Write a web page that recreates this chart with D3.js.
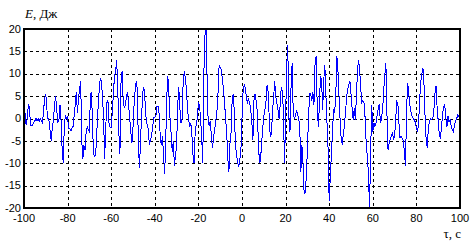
<!DOCTYPE html>
<html>
<head>
<meta charset="utf-8">
<script src="https://cdn.jsdelivr.net/npm/d3@7"></script>
<style>
    body { margin: 0; background: #fff; }
    svg { display: block; }
    .tick-label { font-family: "Liberation Sans", Arial, sans-serif; font-size: 11px; fill: #000; }
    .axis-title { font-family: "Liberation Serif", "Times New Roman", serif; font-size: 13px; fill: #000; }
    .grid line { stroke: #000; stroke-width: 1; stroke-dasharray: 3,3; shape-rendering: crispEdges; }
    .frame { fill: none; stroke: #000; stroke-width: 1.2; shape-rendering: crispEdges; }
    .signal { fill: none; stroke: #0000ff; stroke-width: 1; shape-rendering: crispEdges; }
</style>
</head>
<body>
<svg width="476" height="243"></svg>
<script>
(function (d3) {
    'use strict';

    // sampling of the signal: tau from -100 s, every 0.5 s
    const tauStart = -100;
    const tauStep = 0.5;

    // energy values, one row per 10 s
    const energy = [
        0.5, 1.2, -1.5, 0, 3, 2.5, -1.5, -1.6, -1.4, -0.8, -0.5, 0, -0.6, 0, -0.6, 0, -0.5, -1, 2, 4.5,
        5.5, 2, 0, -0.5, -3, -5, -2, -0.3, 3, 5, 2, -0.8, -0.5, 3, -0.5, -7, -10, -1.5, 0.8, 0,
        0.3, -2.3, -2.3, -2.8, -2.2, -1.8, 0.5, 3, 6, 1.2, 4.5, 6.5, 8.3, -5, -9, -6, -7, -3, -1.8, -2.6,
        -3, 5.5, 6, -3, -8, -8.5, -7, -2, 2.5, 6.5, 9, 8.3, 5, 0, -9, -2, 3.5, 4, -1, -2,
        -2, 1.5, 5.5, 9.5, 10.5, 13, 7, -3, -8, 8, 10.5, 4, 2.5, 3, 5, 6, 3, 0, -3, -5.5,
        -2, 3, 6.5, 8.3, 6.4, -6.5, -11, -4, 1, 6, 7, 4, 0, -1.5, -2.4, -5.9, -4.8, -4, -2, 0.2,
        0.2, 0.6, 2.7, 2.6, 1, -4, -6, -4, -8, -12.5, -5.5, 5, 9.5, 5, 0, -3.5, -7.5, -5, -10.7, -8.3,
        -6.3, 3, 7, 2.3, -1, 0, 8, 10.5, 9, 6.5, 2.3, -0.3, -1.8, -1, -3.5, -8, -10, -3.3, -1.2, 0,
        3.5, 3, 0, -4, -10, 10, 18.5, 20, 9, -1.3, -1.5, -0.5, -4.5, -6.5, -4, -2.2, -0.5, 1.5, 5.7, 12,
        11.5, 10.8, 9, 6.5, 3.5, 0, -3.5, -9, -11.9, -5.5, -3, 4.5, 5.5, 1, -6, -8, -10, -10.7, -9.3, -7,
        0, 6, 7.5, 7, 4.8, 3.5, 4.2, 3.5, 1.9, -0.5, -4.8, 4, 5.5, 4, 1.5, -5, -10, -9.3, -5.5, -2.2,
        0.4, 2, 3.8, 7.5, 6, 0, -4.2, -3.2, 1.5, 4.7, 8.3, 5, 3.3, 2, 0, 3, 7, 6, 1.5, -10,
        0, 11.6, 16.5, 0.5, -3, 7.2, 12.4, 1.5, 0, 0.5, 1.8, 1, 0, -2, -12, -6, -10, -16.7, -16.5, -13,
        -7, 0, 5.5, 5.5, 4, 6, 3, 12, 14, 3, -2, 3, 9.5, 8.5, 2, 8.5, 12, 5, -1, -7,
        -18.5, -13, -8, -3, 2, 1.5, 4.5, 14, 11, 5, -0.3, -4.7, -5.8, -3.5, -1.5, 1.5, 4.8, 6.5, 7.5, 8.3,
        5.5, 2.3, -0.3, 2.3, -0.3, 5, 11, 13, 10.5, 6.5, 3.6, 4, 3.4, 0, -6, -8.5, -12.5, -20, -8, 3,
        -3, -1, -1.8, -1, 0.8, 2.3, 3.2, -1, 0, 2, 6.2, 9.5, 12.3, 1, -7, -5.5, -4.6, -4, -3, -4.6,
        -4, -0.3, 3.8, 3.5, -1, -4.4, -4, -4.5, -5, -7.5, -10.7, 2, 8, 5.5, 3, 1.5, 0.5, 0, -0.3, -0.8,
        -2, -3, -1, 4, 8.3, 10, 11.2, 7.5, 0, -5, -6.5, -2, -0.5, 0, -0.2, 0, 1.6, 5.5, 7.2, 2.5,
        -0.5, -3.5, -4.6, -2, 1, 2.5, 3, 0, -1.8, 0.5, -0.8, -0.3, -1.8, -2.5, -2.9, -1.5, -0.5, 0, 0.8, 0.5,
        0.4
    ];

    const xTicks = [-100, -80, -60, -40, -20, 0, 20, 40, 60, 80, 100];
    const yTicks = [-20, -15, -10, -5, 0, 5, 10, 15, 20];
    const yLabel = ['E', ', Дж'];
    const xLabel = 'τ, с';

    const svg = d3.select('svg');
    const width = +svg.attr('width');
    const height = +svg.attr('height');
    const margin = { top: 29, right: 16, bottom: 35, left: 24 };
    const innerWidth = width - margin.left - margin.right;
    const innerHeight = height - margin.top - margin.bottom;

    const xScale = d3.scaleLinear().domain([-100, 100]).range([0, innerWidth]);
    const yScale = d3.scaleLinear().domain([-20, 20]).range([innerHeight, 0]);

    const g = svg.append('g')
        .attr('transform', `translate(${margin.left},${margin.top})`);

    g.append('clipPath').attr('id', 'plot-clip')
        .append('rect')
        .attr('width', innerWidth)
        .attr('height', innerHeight);

    // dashed grid
    const grid = g.append('g').attr('class', 'grid');
    grid.selectAll('.vgrid').data(xTicks.slice(1, -1))
        .enter().append('line')
        .attr('class', 'vgrid')
        .attr('x1', d => Math.round(xScale(d)) + 0.5)
        .attr('x2', d => Math.round(xScale(d)) + 0.5)
        .attr('y1', 0)
        .attr('y2', innerHeight);
    grid.selectAll('.hgrid').data(yTicks.slice(1, -1))
        .enter().append('line')
        .attr('class', 'hgrid')
        .attr('x1', 0)
        .attr('x2', innerWidth)
        .attr('y1', d => Math.round(yScale(d)) + 0.5)
        .attr('y2', d => Math.round(yScale(d)) + 0.5);

    const points = energy.map((v, i) => ({ tau: tauStart + i * tauStep, value: v }));

    const line = d3.line()
        .x(d => xScale(d.tau))
        .y(d => yScale(d.value));

    g.append('path')
        .datum(points)
        .attr('class', 'signal')
        .attr('clip-path', 'url(#plot-clip)')
        .attr('d', line);

    g.append('rect')
        .attr('class', 'frame')
        .attr('width', innerWidth)
        .attr('height', innerHeight);

    // tick labels
    g.selectAll('.x-label').data(xTicks)
        .enter().append('text')
        .attr('class', 'tick-label')
        .attr('x', d => xScale(d))
        .attr('y', innerHeight + 14)
        .attr('text-anchor', 'middle')
        .text(d => d);

    g.selectAll('.y-label').data(yTicks)
        .enter().append('text')
        .attr('class', 'tick-label')
        .attr('x', -3)
        .attr('y', d => yScale(d))
        .attr('dy', '0.33em')
        .attr('text-anchor', 'end')
        .text(d => d);

    // axis titles
    const yTitle = svg.append('text')
        .attr('class', 'axis-title')
        .attr('x', 25)
        .attr('y', 18);
    yTitle.append('tspan').style('font-style', 'italic').text(yLabel[0]);
    yTitle.append('tspan').text(yLabel[1]);

    svg.append('text')
        .attr('class', 'axis-title')
        .attr('x', margin.left + innerWidth + 1)
        .attr('y', 238)
        .attr('text-anchor', 'end')
        .text(xLabel);

}(d3));
</script>
</body>
</html>
